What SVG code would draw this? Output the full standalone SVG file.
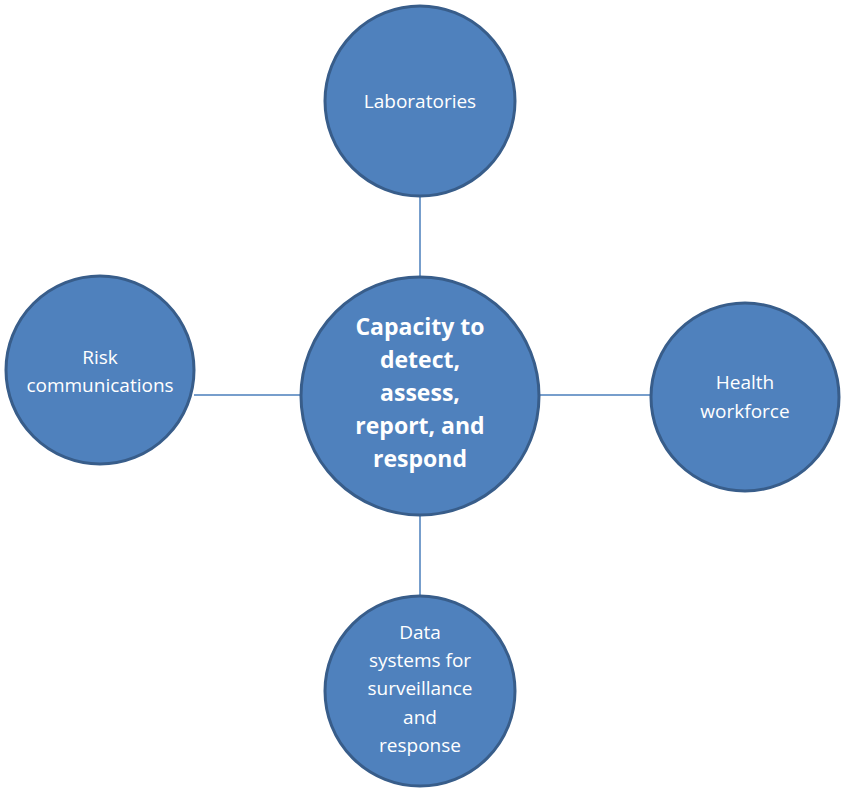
<svg xmlns="http://www.w3.org/2000/svg" width="856" height="800" viewBox="0 0 856 800">
<style>
.n{fill:#4f81bd;stroke:#385d8a;stroke-width:3}
.t{fill:#fff;font-family:"Open Sans","Liberation Sans",sans-serif;font-size:19px;text-anchor:middle}
.b{font-weight:bold;font-size:23px}
.c{stroke:#4a7ebb;stroke-width:1.5}
</style>
<rect width="856" height="800" fill="#fff"/>
<g id="connectors">
<line class="c" x1="420" y1="197" x2="420" y2="276"/>
<line class="c" x1="194" y1="395" x2="300" y2="395"/>
<line class="c" x1="540" y1="395" x2="651" y2="395"/>
<line class="c" x1="420" y1="515" x2="420" y2="595"/>
</g>
<g id="center"><circle class="n" cx="420" cy="396" r="119"/>
<text class="t b" x="420" y="335">Capacity to</text>
<text class="t b" x="420" y="368">detect,</text>
<text class="t b" x="420" y="401">assess,</text>
<text class="t b" x="420" y="434">report, and</text>
<text class="t b" x="420" y="467">respond</text></g>
<g id="labs"><circle class="n" cx="420" cy="101" r="95"/>
<text class="t" x="420" y="108">Laboratories</text></g>
<g id="risk"><circle class="n" cx="100" cy="370" r="94"/>
<text class="t" x="100" y="364">Risk</text>
<text class="t" x="100" y="392">communications</text></g>
<g id="health"><circle class="n" cx="745" cy="397" r="94"/>
<text class="t" x="745" y="389">Health</text>
<text class="t" x="745" y="418">workforce</text></g>
<g id="data"><circle class="n" cx="420" cy="691" r="95"/>
<text class="t" x="420" y="639">Data</text>
<text class="t" x="420" y="667">systems for</text>
<text class="t" x="420" y="695">surveillance</text>
<text class="t" x="420" y="724">and</text>
<text class="t" x="420" y="752">response</text></g>
</svg>
